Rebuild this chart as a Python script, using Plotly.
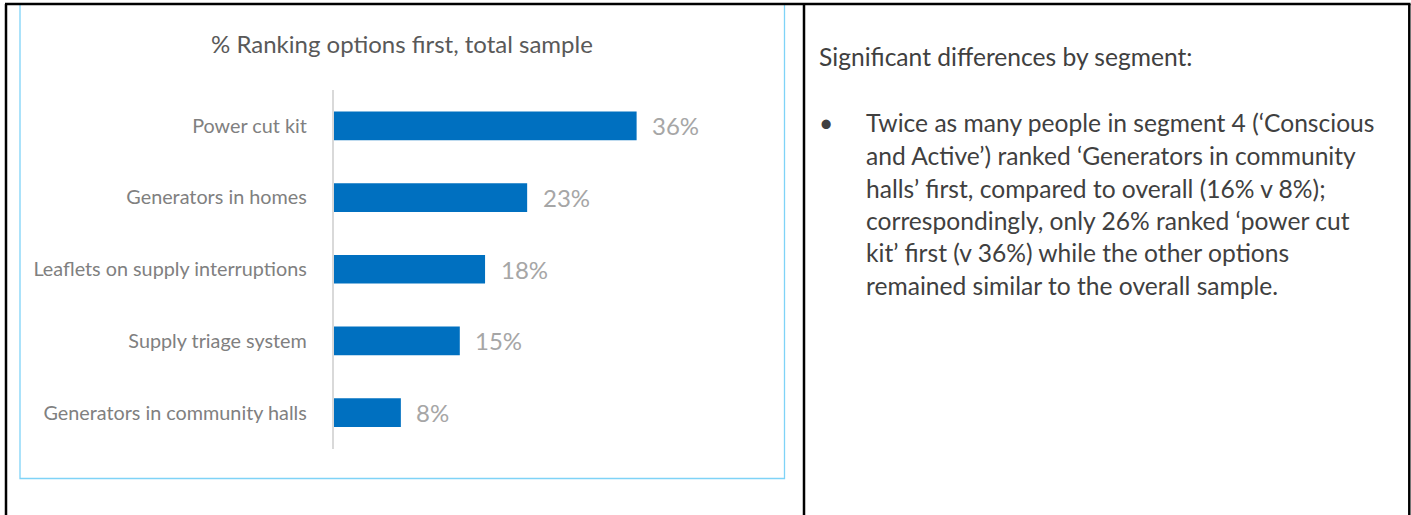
import plotly.graph_objects as go

# Chart data: share of respondents ranking each option first
categories = [
    "Power cut kit",
    "Generators in homes",
    "Leaflets on supply interruptions",
    "Supply triage system",
    "Generators in community halls",
]
values = [36, 23, 18, 15, 8]
value_labels = ["36%", "23%", "18%", "15%", "8%"]

chart_title = "% Ranking options first, total sample"
heading = "Significant differences by segment:"
bullet_lines = [
    "Twice as many people in segment 4 (\u2018Conscious",
    "and Active\u2019) ranked \u2018Generators in community",
    "halls\u2019 first, compared to overall (16% v 8%);",
    "correspondingly, only 26% ranked \u2018power cut",
    "kit\u2019 first (v 36%) while the other options",
    "remained similar to the overall sample.",
]

W, H = 1411, 515
FONT = "Lato"


def px(x):
    return x / W


def py(y):
    return 1 - y / H


fig = go.Figure()
fig.add_trace(
    go.Bar(
        y=categories,
        x=values,
        orientation="h",
        width=0.4,
        marker=dict(color="#0070C0", line=dict(width=0)),
        hoverinfo="skip",
    )
)

# value labels placed just past the end of each bar
annotations = []
for cat, v, lab in zip(categories, values, value_labels):
    annotations.append(
        dict(
            x=v, y=cat, xref="x", yref="y", text=lab, showarrow=False,
            xanchor="left", yanchor="middle", xshift=13.5,
            font=dict(family=FONT, size=24, color="#A6A6A6"),
        )
    )

# chart title
annotations.append(
    dict(
        x=px(401.5), y=py(43), xref="paper", yref="paper", text=chart_title,
        showarrow=False, xanchor="center", yanchor="middle",
        font=dict(family=FONT, size=24, color="#595959"),
    )
)

# commentary column on the right
annotations.append(
    dict(
        x=px(817), y=py(56), xref="paper", yref="paper", text=heading,
        showarrow=False, xanchor="left", yanchor="middle",
        font=dict(family=FONT, size=24.6, color="#404040"),
    )
)
annotations.append(
    dict(
        x=px(817), y=py(123), xref="paper", yref="paper", text="\u2022",
        showarrow=False, xanchor="left", yanchor="middle",
        font=dict(family=FONT, size=24.6, color="#404040"),
    )
)
line_y = [123, 155.5, 188, 220.5, 252.5, 285]
for txt, yy in zip(bullet_lines, line_y):
    annotations.append(
        dict(
            x=px(864), y=py(yy), xref="paper", yref="paper", text=txt,
            showarrow=False, xanchor="left", yanchor="middle",
            font=dict(family=FONT, size=24.6, color="#404040"),
        )
    )

shapes = [
    # light blue frame around the chart
    dict(type="rect", xref="paper", yref="paper",
         x0=px(20), x1=px(784.5), y0=py(478.5), y1=py(4),
         line=dict(color="#7FD3F7", width=1.3), fillcolor="rgba(0,0,0,0)"),
    # table borders
    dict(type="line", xref="paper", yref="paper",
         x0=px(5), x1=px(1410.5), y0=py(4), y1=py(4),
         line=dict(color="#000000", width=2.5)),
    dict(type="line", xref="paper", yref="paper",
         x0=px(6), x1=px(6), y0=py(4), y1=py(520),
         line=dict(color="#000000", width=2.5)),
    dict(type="line", xref="paper", yref="paper",
         x0=px(1409.3), x1=px(1409.3), y0=py(4), y1=py(520),
         line=dict(color="#000000", width=2.5)),
    dict(type="line", xref="paper", yref="paper",
         x0=px(804), x1=px(804), y0=py(4), y1=py(520),
         line=dict(color="#000000", width=2.5)),
]

x_left, px_per_unit = 333.5, 8.42
x_max = 50
fig.update_layout(
    width=W, height=H,
    margin=dict(l=0, r=0, t=0, b=0),
    paper_bgcolor="white", plot_bgcolor="white",
    showlegend=False,
    annotations=annotations,
    shapes=shapes,
    xaxis=dict(
        domain=[px(x_left), px(x_left + x_max * px_per_unit)],
        range=[0, x_max], visible=False, fixedrange=True,
    ),
    yaxis=dict(
        domain=[py(448.5), py(90)],
        type="category", categoryorder="array", categoryarray=categories,
        range=[4.5, -0.5],
        showline=True, linecolor="#D9D9D9", linewidth=1.5,
        showgrid=False, zeroline=False, ticks="",
        ticklabelstandoff=21,
        tickfont=dict(family=FONT, size=19.8, color="#808080"),
        fixedrange=True,
    ),
)

fig.write_html("out.html")
